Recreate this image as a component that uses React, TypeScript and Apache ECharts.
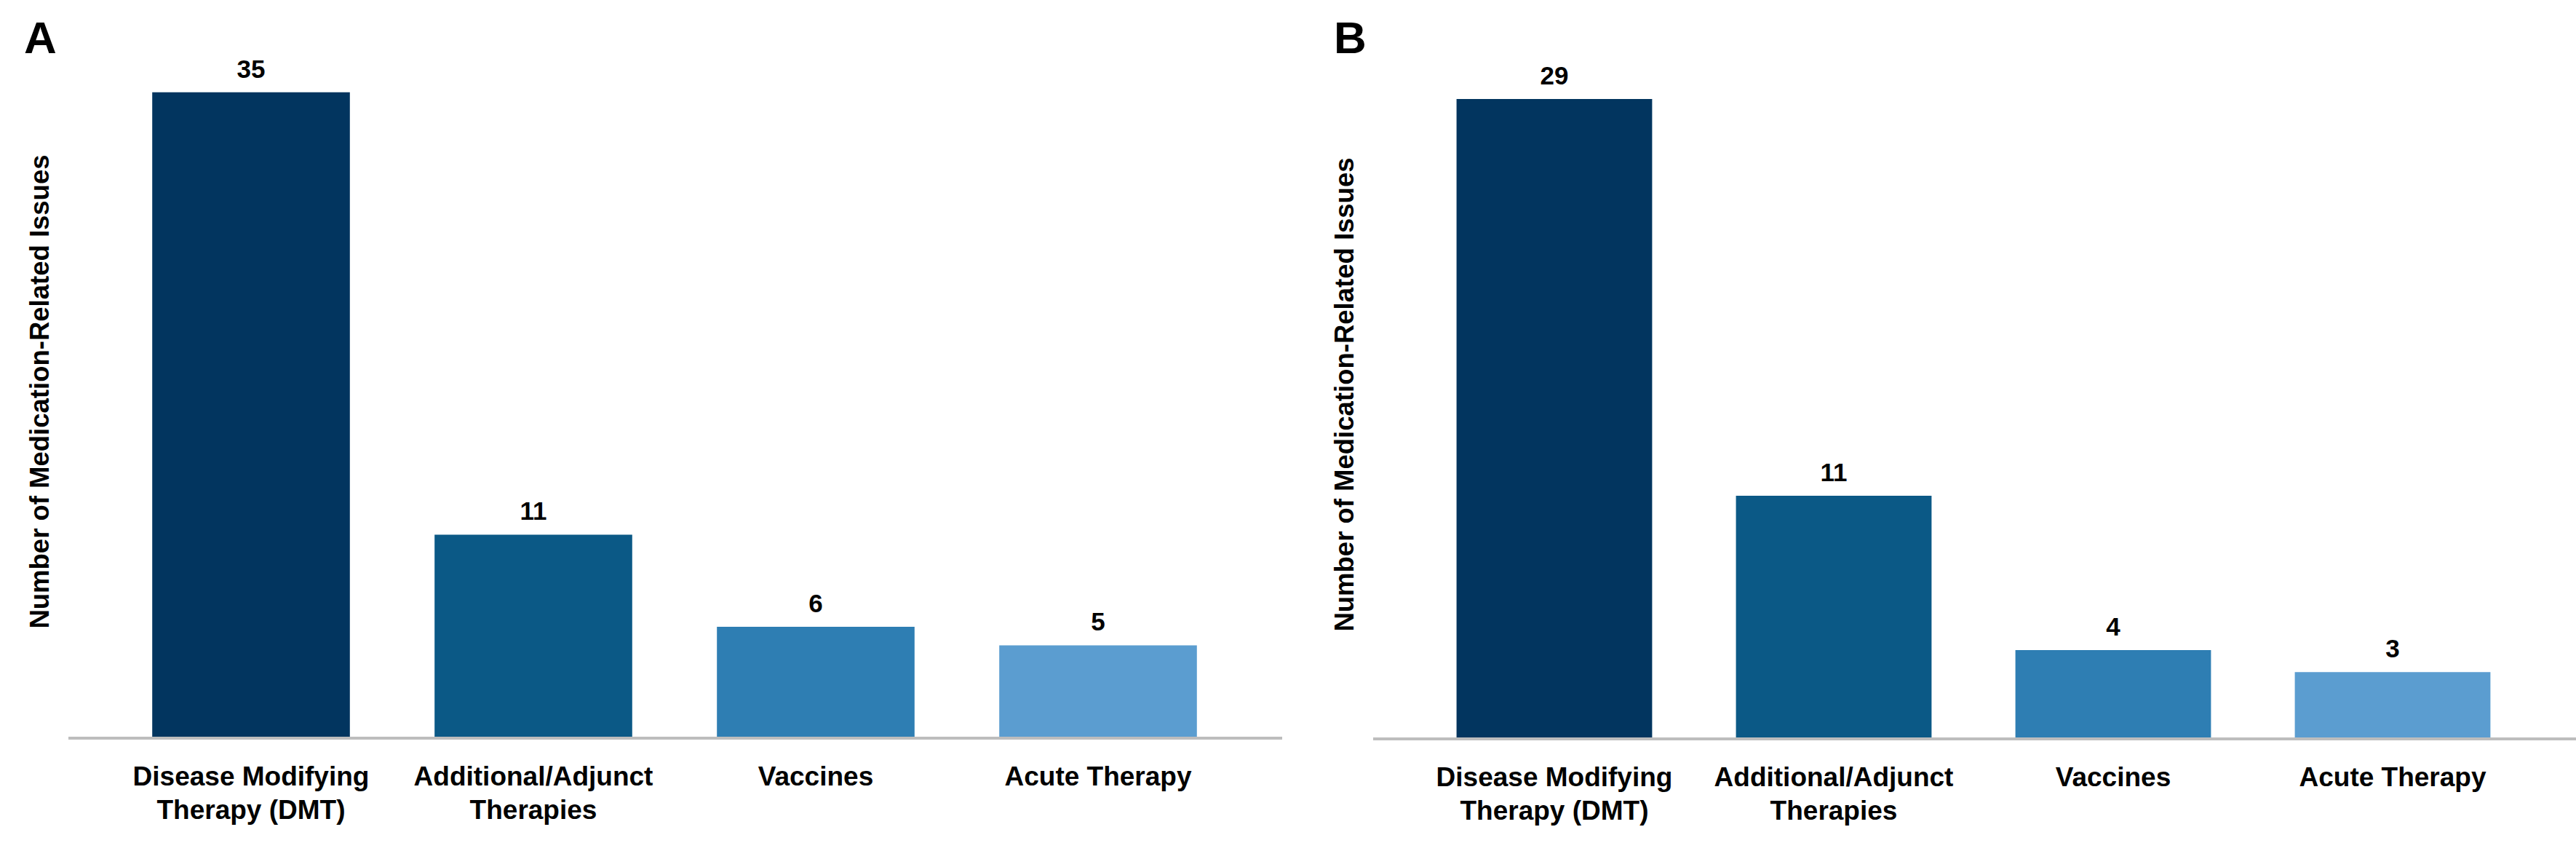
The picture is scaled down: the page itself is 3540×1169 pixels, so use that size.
import React, { useEffect, useRef } from "react";
import * as echarts from "echarts";

const categories = [
  "Disease Modifying\nTherapy (DMT)",
  "Additional/Adjunct\nTherapies",
  "Vaccines",
  "Acute Therapy",
];
const valuesA = [35, 11, 6, 5];
const valuesB = [29, 11, 4, 3];
const barColors = ["#02355F", "#0B5986", "#2E7EB3", "#5B9DD0"];
const yTitle = "Number of Medication-Related Issues";
const panelLabels = ["A", "B"];

const FONT = "'Liberation Sans', Arial, sans-serif";

export default function App() {
  const ref = useRef<HTMLDivElement>(null);
  useEffect(() => {
    if (!ref.current) return;
    const chart = echarts.init(ref.current, undefined, { renderer: "svg" });
    const mkData = (vals: number[]) =>
      vals.map((v, i) => ({ value: v, itemStyle: { color: barColors[i] } }));
    const xAxisBase = {
      type: "category",
      data: categories,
      axisLine: { show: false },
      axisTick: { show: false },
      axisLabel: {
        color: "#000",
        fontFamily: FONT,
        fontWeight: "bold",
        fontSize: 37,
        lineHeight: 46,
        margin: 30,
        interval: 0,
      },
    };
    const yAxisBase = {
      type: "value",
      min: 0,
      axisLine: { show: false },
      axisTick: { show: false },
      axisLabel: { show: false },
      splitLine: { show: false },
    };
    const labelCfg = {
      show: true,
      position: "top",
      distance: 15,
      color: "#000",
      fontFamily: FONT,
      fontWeight: "bold",
      fontSize: 35,
    };
    chart.setOption({
      animation: false,
      backgroundColor: "#fff",
      grid: [
        { left: 151, width: 1552, top: 0, bottom: 156 },
        { left: 1944, width: 1536, top: 15, bottom: 155 },
      ],
      xAxis: [
        { ...xAxisBase, gridIndex: 0 },
        { ...xAxisBase, gridIndex: 1 },
      ],
      yAxis: [
        { ...yAxisBase, gridIndex: 0, max: 40 },
        { ...yAxisBase, gridIndex: 1, max: 33 },
      ],
      series: [
        {
          type: "bar",
          xAxisIndex: 0,
          yAxisIndex: 0,
          data: mkData(valuesA),
          barCategoryGap: "30%",
          label: labelCfg,
        },
        {
          type: "bar",
          xAxisIndex: 1,
          yAxisIndex: 1,
          data: mkData(valuesB),
          barCategoryGap: "30%",
          label: labelCfg,
        },
      ],
      graphic: [
        {
          type: "line",
          shape: { x1: 94, y1: 1014, x2: 1762, y2: 1014 },
          style: { stroke: "#BDBDBD", lineWidth: 4 },
          z: 10,
        },
        {
          type: "line",
          shape: { x1: 1887, y1: 1015, x2: 3540, y2: 1015 },
          style: { stroke: "#BDBDBD", lineWidth: 4 },
          z: 10,
        },
        {
          type: "text",
          x: 33,
          y: 51,
          style: {
            text: panelLabels[0],
            fontFamily: FONT,
            fontWeight: "bold",
            fontSize: 62,
            fill: "#000",
            textAlign: "left",
            textVerticalAlign: "middle",
          },
        },
        {
          type: "text",
          x: 1833,
          y: 51,
          style: {
            text: panelLabels[1],
            fontFamily: FONT,
            fontWeight: "bold",
            fontSize: 62,
            fill: "#000",
            textAlign: "left",
            textVerticalAlign: "middle",
          },
        },
        {
          type: "text",
          x: 54,
          y: 538,
          rotation: Math.PI / 2,
          style: {
            text: yTitle,
            fontFamily: FONT,
            fontWeight: "bold",
            fontSize: 36.5,
            fill: "#000",
            textAlign: "center",
            textVerticalAlign: "middle",
          },
        },
        {
          type: "text",
          x: 1847,
          y: 542,
          rotation: Math.PI / 2,
          style: {
            text: yTitle,
            fontFamily: FONT,
            fontWeight: "bold",
            fontSize: 36.5,
            fill: "#000",
            textAlign: "center",
            textVerticalAlign: "middle",
          },
        },
      ],
    });
    return () => chart.dispose();
  }, []);
  return (
    <div
      ref={ref}
      style={{ position: "fixed", left: 0, top: 0, width: 3540, height: 1169, background: "#fff" }}
    />
  );
}
